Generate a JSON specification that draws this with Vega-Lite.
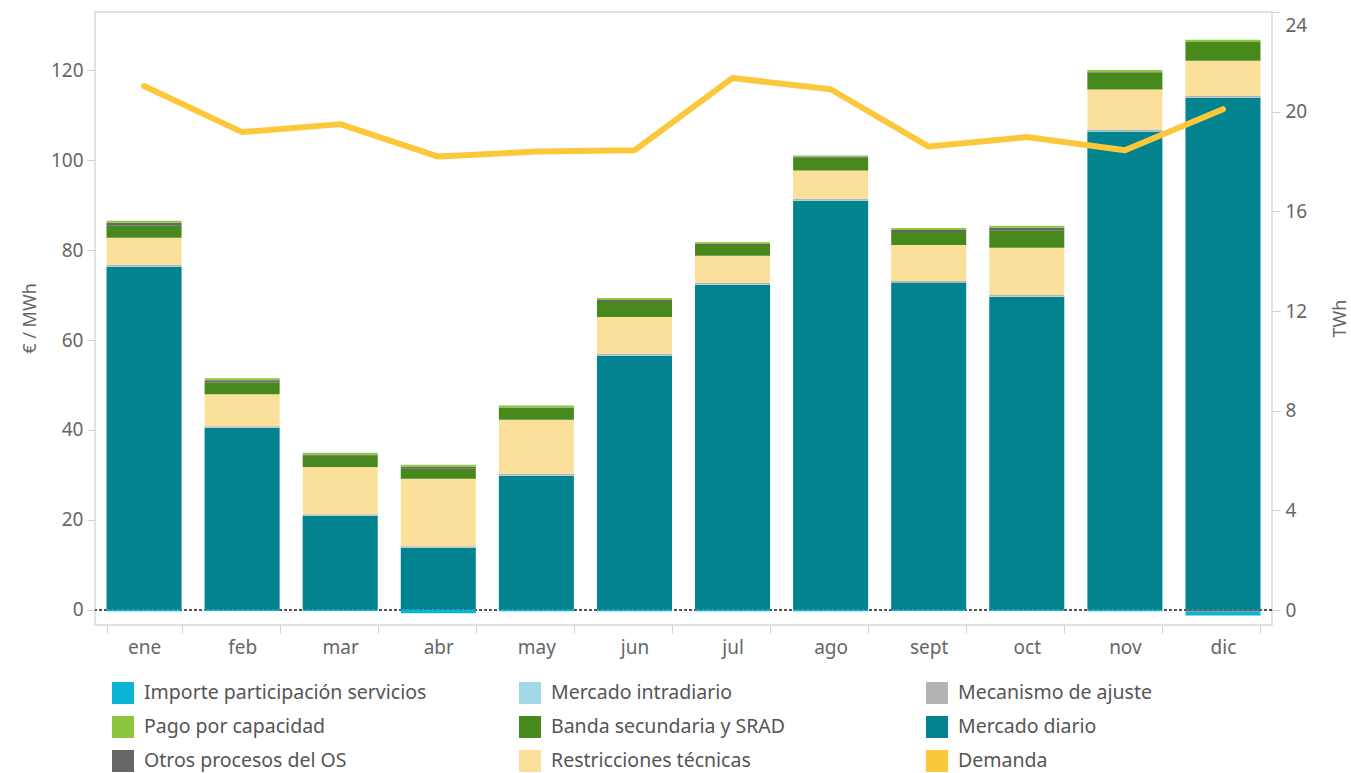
{
  "$schema": "https://vega.github.io/schema/vega-lite/v6.json",
  "width": 1177,
  "height": 613,
  "autosize": {"type": "none"},
  "padding": {"left": 95, "top": 12, "right": 79, "bottom": 148},
  "background": "white",
  "config": {
    "font": "Noto Sans",
    "view": {"stroke": "#d9d9d9", "strokeWidth": 1.5},
    "axis": {
      "labelFont": "Noto Sans",
      "labelFontSize": 19,
      "labelColor": "#666666",
      "titleFont": "Noto Sans",
      "titleFontSize": 18,
      "titleFontWeight": "normal",
      "titleColor": "#666666",
      "tickColor": "#d0d0d0",
      "tickSize": 8,
      "domainColor": "#d9d9d9",
      "domainWidth": 1.5,
      "grid": false
    }
  },
  "datasets": {
    "costes": [
      {"mes": "ene", "Mercado diario": 76.3, "Mercado intradiario": 0.1, "Mecanismo de ajuste": 0.35, "Restricciones técnicas": 6.0, "Banda secundaria y SRAD": 2.7, "Otros procesos del OS": 0.65, "Pago por capacidad": 0.45, "Importe participación servicios": -0.35, "Demanda": 21.03},
      {"mes": "feb", "Mercado diario": 40.5, "Mercado intradiario": 0.05, "Mecanismo de ajuste": 0.3, "Restricciones técnicas": 7.1, "Banda secundaria y SRAD": 2.6, "Otros procesos del OS": 0.5, "Pago por capacidad": 0.45, "Importe participación servicios": -0.3, "Demanda": 19.18},
      {"mes": "mar", "Mercado diario": 20.9, "Mercado intradiario": 0.05, "Mecanismo de ajuste": 0.3, "Restricciones técnicas": 10.5, "Banda secundaria y SRAD": 2.5, "Otros procesos del OS": 0.3, "Pago por capacidad": 0.4, "Importe participación servicios": -0.3, "Demanda": 19.5},
      {"mes": "abr", "Mercado diario": 13.8, "Mercado intradiario": 0.05, "Mecanismo de ajuste": 0.3, "Restricciones técnicas": 15.0, "Banda secundaria y SRAD": 2.2, "Otros procesos del OS": 0.45, "Pago por capacidad": 0.45, "Importe participación servicios": -0.8, "Demanda": 18.2},
      {"mes": "may", "Mercado diario": 29.8, "Mercado intradiario": 0.1, "Mecanismo de ajuste": 0.35, "Restricciones técnicas": 12.0, "Banda secundaria y SRAD": 2.65, "Otros procesos del OS": 0.1, "Pago por capacidad": 0.45, "Importe participación servicios": -0.35, "Demanda": 18.4},
      {"mes": "jun", "Mercado diario": 56.5, "Mercado intradiario": 0.1, "Mecanismo de ajuste": 0.35, "Restricciones técnicas": 8.2, "Banda secundaria y SRAD": 3.3, "Otros procesos del OS": 0.45, "Pago por capacidad": 0.45, "Importe participación servicios": -0.35, "Demanda": 18.45},
      {"mes": "jul", "Mercado diario": 72.3, "Mercado intradiario": 0.1, "Mecanismo de ajuste": 0.35, "Restricciones técnicas": 6.0, "Banda secundaria y SRAD": 2.4, "Otros procesos del OS": 0.2, "Pago por capacidad": 0.4, "Importe participación servicios": -0.35, "Demanda": 21.35},
      {"mes": "ago", "Mercado diario": 91.0, "Mercado intradiario": 0.1, "Mecanismo de ajuste": 0.35, "Restricciones técnicas": 6.3, "Banda secundaria y SRAD": 2.8, "Otros procesos del OS": 0.3, "Pago por capacidad": 0.2, "Importe participación servicios": -0.35, "Demanda": 20.9},
      {"mes": "sept", "Mercado diario": 72.8, "Mercado intradiario": 0.05, "Mecanismo de ajuste": 0.3, "Restricciones técnicas": 8.0, "Banda secundaria y SRAD": 2.9, "Otros procesos del OS": 0.45, "Pago por capacidad": 0.45, "Importe participación servicios": -0.3, "Demanda": 18.6},
      {"mes": "oct", "Mercado diario": 69.6, "Mercado intradiario": 0.1, "Mecanismo de ajuste": 0.35, "Restricciones técnicas": 10.5, "Banda secundaria y SRAD": 3.8, "Otros procesos del OS": 0.65, "Pago por capacidad": 0.45, "Importe participación servicios": -0.3, "Demanda": 18.98},
      {"mes": "nov", "Mercado diario": 106.4, "Mercado intradiario": 0.1, "Mecanismo de ajuste": 0.35, "Restricciones técnicas": 8.9, "Banda secundaria y SRAD": 3.8, "Otros procesos del OS": 0.1, "Pago por capacidad": 0.45, "Importe participación servicios": -0.35, "Demanda": 18.45},
      {"mes": "dic", "Mercado diario": 113.9, "Mercado intradiario": 0.1, "Mecanismo de ajuste": 0.35, "Restricciones técnicas": 7.8, "Banda secundaria y SRAD": 4.2, "Otros procesos del OS": -0.4, "Pago por capacidad": 0.45, "Importe participación servicios": -0.9, "Demanda": 20.1}
    ]
  },
  "layer": [
    {
      "data": {"name": "costes"},
      "transform": [
        {"fold": ["Mercado diario", "Mercado intradiario", "Mecanismo de ajuste", "Restricciones técnicas", "Banda secundaria y SRAD", "Otros procesos del OS", "Pago por capacidad", "Importe participación servicios"], "as": ["serie", "valor"]},
        {"calculate": "indexof(['Mercado diario', 'Mercado intradiario', 'Mecanismo de ajuste', 'Restricciones técnicas', 'Banda secundaria y SRAD', 'Otros procesos del OS', 'Pago por capacidad', 'Importe participación servicios'], datum.serie)", "as": "orden"}
      ],
      "layer": [
        {
          "mark": {"type": "rule", "strokeDash": [3, 2], "color": "#555555", "strokeWidth": 1},
          "encoding": {
            "y": {"datum": 0, "type": "quantitative", "scale": {"domain": [-3.4, 133], "nice": false, "zero": false}}
          }
        },
        {
          "mark": {"type": "bar"},
          "encoding": {
            "x": {
              "field": "mes", "type": "nominal",
              "sort": ["ene", "feb", "mar", "abr", "may", "jun", "jul", "ago", "sept", "oct", "nov", "dic"],
              "scale": {"paddingInner": 0.235, "paddingOuter": 0.1175},
              "axis": {"title": null, "tickBand": "extent", "labelPadding": 5, "labelAngle": 0, "domain": false}
            },
            "y": {
              "field": "valor", "type": "quantitative", "stack": "zero",
              "scale": {"domain": [-3.4, 133], "nice": false, "zero": false},
              "axis": {"title": "€ / MWh", "values": [0, 20, 40, 60, 80, 100, 120], "labelPadding": 4, "domain": false, "titleAngle": -90, "titleX": -65, "titleY": 306, "titleAlign": "center", "titleBaseline": "middle"}
            },
            "color": {
              "field": "serie", "type": "nominal",
              "scale": {
                "domain": ["Importe participación servicios", "Mercado intradiario", "Mecanismo de ajuste", "Pago por capacidad", "Banda secundaria y SRAD", "Mercado diario", "Otros procesos del OS", "Restricciones técnicas", "Demanda"],
                "range": ["#0bb4d3", "#a3d9e6", "#b4b4b4", "#8cc63e", "#47891c", "#02838f", "#666666", "#fae09a", "#fcc83b"]
              },
              "legend": {
                "title": null,
                "orient": "none",
                "legendX": 17,
                "legendY": 670,
                "direction": "horizontal",
                "columns": 3,
                "gridAlign": "all",
                "columnPadding": 92,
                "rowPadding": 12,
                "padding": 0,
                "symbolType": "square",
                "symbolSize": 484,
                "symbolStrokeWidth": 0,
                "labelFont": "Noto Sans",
                "labelFontSize": 19.5,
                "labelColor": "#555555",
                "labelOffset": 10,
                "labelLimit": 400,
                "encode": {"symbols": {"update": {"fill": {"scale": "color", "field": "value"}, "strokeWidth": {"value": 0}, "opacity": {"value": 1}}}}
              }
            },
            "order": {"field": "orden", "type": "quantitative"}
          }
        }
      ]
    },
    {
      "data": {"name": "costes"},
      "mark": {"type": "line", "strokeWidth": 6, "strokeCap": "round", "strokeJoin": "round"},
      "encoding": {
        "x": {"field": "mes", "type": "nominal", "sort": ["ene", "feb", "mar", "abr", "may", "jun", "jul", "ago", "sept", "oct", "nov", "dic"]},
        "y": {
          "field": "Demanda", "type": "quantitative",
          "scale": {"domain": [-0.6, 24], "nice": false, "zero": false},
          "axis": {"orient": "right", "title": "TWh", "values": [0, 4, 8, 12, 16, 20, 24], "labelPadding": 5, "labelFlush": true, "labelFlushOffset": -4, "domain": false, "titleAngle": -90, "titleX": 68, "titleY": 306, "titleAlign": "center", "titleBaseline": "middle"}
        },
        "color": {"datum": "Demanda", "type": "nominal"}
      }
    }
  ],
  "resolve": {"scale": {"y": "independent"}}
}
